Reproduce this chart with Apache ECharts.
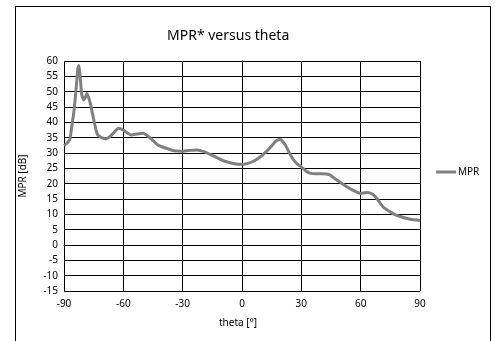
<!DOCTYPE html>
<html>
<head>
<meta charset="utf-8">
<script src="https://cdn.jsdelivr.net/npm/echarts@6/dist/echarts.min.js"></script>
<style>
    html, body { margin: 0; padding: 0; background: #fff; }
    #main { position: absolute; left: 0; top: 0; width: 495px; height: 341px; }
    .frame {
        position: absolute;
        left: 15px;
        top: 6px;
        width: 474px;
        height: 400px;
        border: 1px solid #000;
    }
</style>
</head>
<body>
<div class="frame"></div>
<div id="main"></div>
<script>
// angle in degrees
var theta = [-90, -88, -87, -86, -85, -84, -83, -82.5, -82, -81, -80, -79, -78.5, -77, -76, -75, -74, -73, -71, -69,
    -67, -65, -62.5, -60, -58, -56, -53, -50, -47, -44, -42, -38, -35, -31, -27, -23, -20, -17, -13, -10,
    -6, -3, 0, 3, 6, 9, 12, 15, 17, 19, 20, 22, 24, 26, 28, 30, 32, 34, 37, 40,
    44, 47, 50, 53, 56, 60, 63, 66, 68, 70, 72, 74, 77, 80, 83, 86, 90]
// MPR in dB
var mpr = [32.4, 33.5, 34.5, 39, 43.5, 50, 57.5, 58.5, 56, 49, 47.3, 48.5, 49.4, 47, 44, 41, 38, 36, 35, 34.6,
    35.2, 36.5, 38.1, 37.5, 36.5, 35.9, 36.2, 36.4, 35.2, 33.5, 32.4, 31.5, 30.8, 30.6, 30.8, 31, 30.6, 29.8, 28.6, 27.6,
    26.8, 26.4, 26.3, 26.6, 27.4, 28.6, 30.3, 32.3, 33.8, 34.4, 34.2, 32.5, 30, 27.8, 26.4, 25.5, 24.3, 23.5, 23.2, 23.2,
    23, 21.6, 20.3, 19, 17.9, 16.8, 17.1, 16.6, 15.3, 13.5, 12, 11.2, 10, 9.3, 8.7, 8.3, 8]

var xTicks = { min: -90, max: 90, step: 30 }
var yTicks = { min: -15, max: 60, step: 5 }

var points = []
for (var i = 0; i < theta.length; i++) {
    points.push([theta[i], mpr[i]])
}

var font = 'Noto Sans'
var chart = echarts.init(document.getElementById('main'))
var option = {
    animation: false,
    textStyle: { fontFamily: font, color: '#000' },
    title: {
        text: 'MPR* versus theta',
        left: 162,
        top: 24,
        textStyle: { fontFamily: font, fontSize: 14, fontWeight: 'normal', color: '#000' }
    },
    legend: {
        left: 431,
        top: 162,
        itemWidth: 20,
        itemHeight: 3,
        itemGap: 2,
        textStyle: { fontFamily: font, fontSize: 10, color: '#000', padding: [0, 0, 0, -3] },
        data: [{ name: 'MPR', icon: 'rect' }]
    },
    grid: { left: 64, right: 75, top: 61, bottom: 50 },
    xAxis: {
        type: 'value',
        min: xTicks.min,
        max: xTicks.max,
        interval: xTicks.step,
        name: 'theta [°]',
        nameLocation: 'middle',
        nameGap: 27,
        nameTextStyle: { fontFamily: font, fontSize: 10, color: '#000', padding: [0, 8, 0, 0] },
        axisLine: { lineStyle: { color: '#000', width: 1 } },
        axisTick: { show: false },
        axisLabel: { fontFamily: font, fontSize: 10, color: '#000', margin: 8 },
        splitLine: { show: true, lineStyle: { color: '#000', width: 1 } }
    },
    yAxis: {
        type: 'value',
        min: yTicks.min,
        max: yTicks.max,
        interval: yTicks.step,
        name: 'MPR [dB]',
        nameLocation: 'middle',
        nameGap: 36,
        nameTextStyle: { fontFamily: font, fontSize: 10, color: '#000' },
        axisLine: { show: true, lineStyle: { color: '#000', width: 1 } },
        axisTick: { show: true, length: 3, lineStyle: { color: '#000' } },
        axisLabel: { fontFamily: font, fontSize: 10, color: '#000', margin: 6 },
        splitLine: { show: true, lineStyle: { color: '#000', width: 1 } }
    },
    series: [
        {
            name: 'MPR',
            type: 'line',
            data: points,
            showSymbol: false,
            smooth: 0.2,
            itemStyle: { color: '#808080' },
            lineStyle: { color: '#808080', width: 3 }
        }
    ]
}
chart.setOption(option)
</script>
</body>
</html>
